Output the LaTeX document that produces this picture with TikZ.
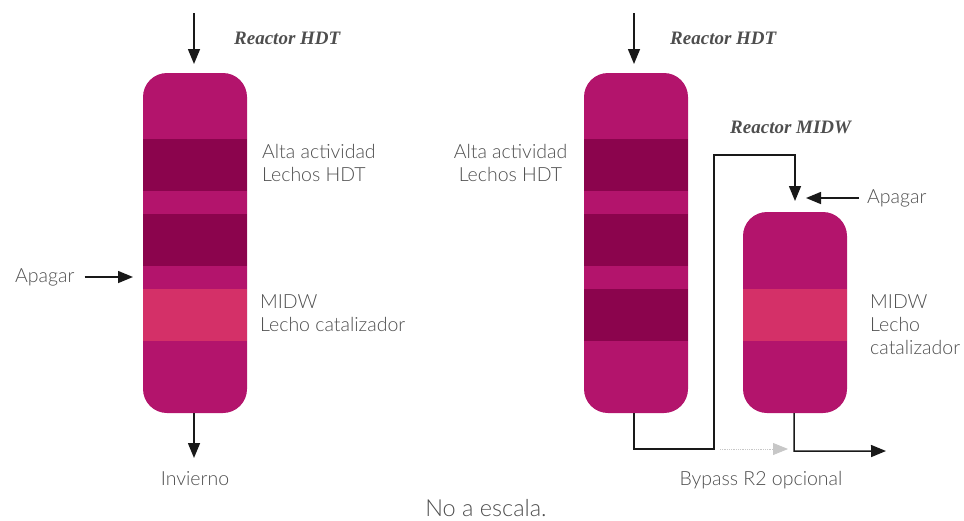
\documentclass[tikz,border=0pt]{standalone}
\usepackage{fontspec}
\setmainfont{Lato Light}
\newfontfamily\titlefont{Liberation Serif}
\usetikzlibrary{arrows.meta}
\definecolor{reactorpink}{HTML}{B3146C}
\definecolor{bedhdt}{HTML}{8B044D}
\definecolor{bedmidw}{HTML}{D43068}
\definecolor{labelgray}{HTML}{4E4E4E}
\tikzset{
    reactor/.style={fill=reactorpink, rounded corners=24pt, minimum width=104pt, inner sep=0pt},
    hdtbed/.style={fill=bedhdt, minimum width=104pt, minimum height=52pt, inner sep=0pt},
    midwbed/.style={hdtbed, fill=bedmidw},
    flow/.style={-{Triangle[length=15pt,width=12pt]}, line width=1.5pt, black!90},
    label/.style={font=\fontsize{19.5}{23}\selectfont, text=labelgray, inner sep=0pt, align=left},
    title/.style={font=\titlefont\fontsize{19}{20}\selectfont\bfseries\itshape, text=labelgray, inner sep=0pt}
}
\begin{document}
\begin{tikzpicture}[x=1pt,y=-1pt]
    \useasboundingbox (0,0) rectangle (964,520);
    % left reactor
    \node[reactor, minimum height=340pt] (hdtA) at (195,243) {};
    \node[hdtbed] (bedAa) at (195,165) {};
    \node[hdtbed] (bedAb) at (195,240) {};
    \node[midwbed] (bedAc) at (195,315) {};
    % right reactors
    \node[reactor, minimum height=340pt] (hdtB) at (636,243) {};
    \node[hdtbed] (bedBa) at (636,165) {};
    \node[hdtbed] (bedBb) at (636,240) {};
    \node[hdtbed] (bedBc) at (636,315) {};
    \node[reactor, minimum height=201pt] (midw) at (795,312.5) {};
    \node[midwbed] (bedCa) at (795,315) {};
    % free ends
    \coordinate (feedA) at (194,13);
    \coordinate (feedAend) at (194,64);
    \coordinate (outA) at (194,458);
    \coordinate (quenchAend) at (133,277);
    \coordinate (feedB) at (634,13);
    \coordinate (feedBend) at (634,64);
    \coordinate (linkend) at (795,201);
    \coordinate (quenchBend) at (806,198);
    \coordinate (outB) at (886,451);
    \coordinate (bypass) at (720,449);
    \coordinate (bypassend) at (788,449);
    % labels
    \node[title, anchor=west] (titleA) at (234,38) {Reactor HDT};
    \node[title, anchor=west] (titleB) at (670,38) {Reactor HDT};
    \node[title, anchor=west] (titleC) at (730,127) {Reactor MIDW};
    \node[label, anchor=west] (hdtlabelA) at (262,163) {Alta actividad\\Lechos HDT};
    \node[label, anchor=west] (midwlabelA) at (260,313) {MIDW\\Lecho catalizador};
    \node[label, anchor=west] (quenchA) at (15,277) {Apagar};
    \node[label, anchor=center] (winter) at (195,479) {Invierno};
    \node[label, anchor=center, align=center] (hdtlabelB) at (510.5,163) {Alta actividad\\Lechos HDT};
    \node[label, anchor=west] (quenchB) at (867,198) {Apagar};
    \node[label, anchor=west] (midwlabelB) at (870,325) {MIDW\\Lecho\\catalizador};
    \node[label, anchor=center] (bypasslabel) at (761,480) {Bypass R2 opcional};
    \node[label, anchor=center, font=\fontsize{23.5}{28}\selectfont] (scalenote) at (486,508.5) {No a escala.};
    % flows
    \draw[flow] (feedA) -- (feedAend);
    \draw[flow] (hdtA.south -| outA) -- (outA);
    \draw[flow] (quenchA.east) ++(10,0) -- (quenchAend);
    \draw[flow] (feedB) -- (feedBend);
    \draw[flow] (hdtB.south -| feedB) --++ (0,36) --++ (80,0) --++ (0,-294) --++ (81,0) -- (linkend);
    \draw[flow] (quenchB.west) ++(-8,0) -- (quenchBend);
    \draw[flow] (midw.south -| 794,0) --++ (0,38) -- (outB);
    \draw[-{Triangle[length=15pt,width=12pt]}, densely dotted, line width=0.8pt, black!22] (bypass) -- (bypassend);
\end{tikzpicture}
\end{document}
